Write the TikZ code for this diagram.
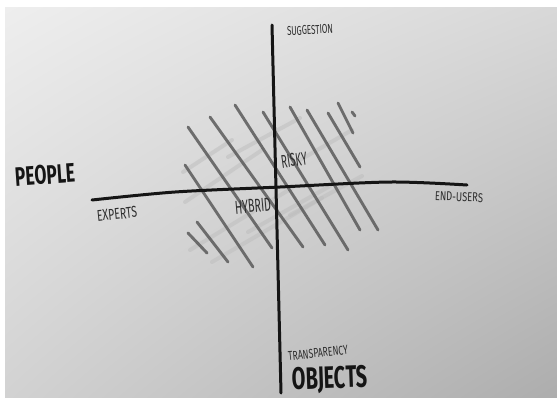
\documentclass[tikz,border=0pt]{standalone}
\usepackage{fontspec}
\setmainfont{Fira Sans}
\usepackage{graphicx}
\usetikzlibrary{shadings}
\definecolor{ink}{HTML}{151515}
\definecolor{pen}{HTML}{2E2E2E}
\definecolor{hatchdark}{HTML}{5A5A5A}
\definecolor{hatchlight}{HTML}{BDBDBD}
\definecolor{paperA}{HTML}{EEEEEE}
\definecolor{paperB}{HTML}{D8D8D8}
\definecolor{paperC}{HTML}{D2D2D2}
\definecolor{paperD}{HTML}{ADADAD}
\tikzset{
  hand/.style={inner sep=0pt, text=pen},
  bighand/.style={inner sep=0pt, text=ink, font=\bfseries},
  axisline/.style={draw=ink, line width=3pt, line cap=round},
  darkhatch/.style={draw=hatchdark, line width=2.9pt, line cap=round, opacity=0.85},
  lighthatch/.style={draw=hatchlight, line width=4pt, line cap=round, opacity=0.5}
}
\begin{document}
\begin{tikzpicture}[x=1pt,y=-1pt]
\useasboundingbox (0,0) rectangle (557,397);
\fill[white] (0,0) rectangle (557,397);
\shade[upper left=paperA, upper right=paperB, lower left=paperC, lower right=paperD]
  (5,7) rectangle (557,397);

% light cross hatching
\draw[lighthatch] (183,172) -- (232,140);
\draw[lighthatch] (185,202) -- (262,150);
\draw[lighthatch] (190,250) -- (292,188);
\draw[lighthatch] (212,262) -- (322,198);
\draw[lighthatch] (228,157) -- (300,118);
\draw[lighthatch] (290,215) -- (362,176);
\draw[lighthatch] (300,160) -- (352,130);
\draw[lighthatch] (248,232) -- (330,186);

% dark hatching
\draw[darkhatch] (188,233) -- (207,253);
\draw[darkhatch] (197,222) -- (228,262);
\draw[darkhatch] (185,165) -- (253,267);
\draw[darkhatch] (188,127) -- (272,248);
\draw[darkhatch] (210,117) -- (303,247);
\draw[darkhatch] (235,105) -- (325,245);
\draw[darkhatch] (263,112) -- (348,250);
\draw[darkhatch] (290,107) -- (360,230);
\draw[darkhatch] (307,110) -- (378,230);
\draw[darkhatch] (328,113) -- (360,167);
\draw[darkhatch] (338,103) -- (353,133);
\draw[darkhatch] (352,112) -- (355,116);

% axes
\coordinate (vtop) at (272,25);
\coordinate (vbot) at (281,393);
\coordinate (hl) at (92,200);
\coordinate (hr) at (467,185);
\draw[axisline] (vtop) -- (vbot);
\draw[axisline] plot[smooth] coordinates {(hl) (175,192) (280,187) (390,182) (hr)};

% labels
\node[bighand, rotate=4] (people) at (45,175) {\resizebox{60pt}{19pt}{PEOPLE}};
\node[bighand, rotate=2] (objects) at (330,380) {\resizebox{75pt}{22pt}{OBJECTS}};
\node[hand, rotate=6] (experts) at (117,214) {\resizebox{40pt}{11pt}{EXPERTS}};
\node[hand, rotate=-2] (endusers) at (459,197) {\resizebox{48pt}{9pt}{END-USERS}};
\node[hand, rotate=3] (suggestion) at (310,30) {\resizebox{46pt}{9pt}{SUGGESTION}};
\node[hand, rotate=6] (transparency) at (318,353) {\resizebox{60pt}{9pt}{TRANSPARENCY}};
\node[hand, rotate=8] (risky) at (294,160) {\resizebox{26pt}{13pt}{RISKY}};
\node[hand, rotate=5] (hybrid) at (253,206) {\resizebox{36pt}{13pt}{HYBRID}};
\end{tikzpicture}
\end{document}
